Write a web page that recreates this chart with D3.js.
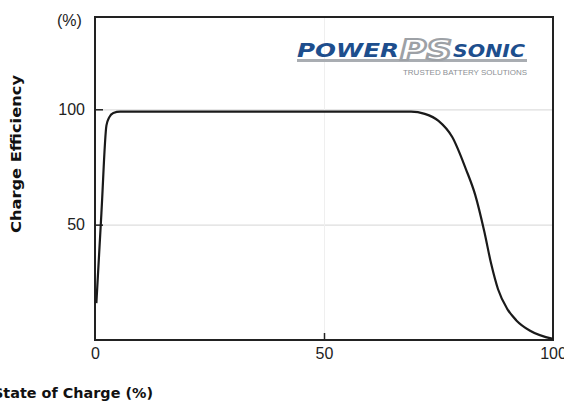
<!DOCTYPE html>
<html>
<head>
<meta charset="utf-8">
<title>Charge Efficiency</title>
<style type="text/css">
  body { margin: 0; background: #fff; }
  svg { display: block; }
</style>
<script src="https://cdn.jsdelivr.net/npm/d3@7/dist/d3.min.js"></script>
</head>
<body>
<div id="chart"></div>
<script type="text/javascript">
// state of charge (%) and charge efficiency (%)
var stateOfCharge = [0.3, 1.4, 2.5, 3.1, 4, 5.5, 20, 40, 60, 69, 72, 75, 78, 81, 83, 85, 86.5, 88, 90, 92, 95, 100];
var efficiency    = [16, 55, 93, 96.5, 98.4, 99, 99, 99, 99, 99, 98, 95, 88, 74, 63, 47, 33, 22, 13.5, 8.5, 4, 0.5];
var xTicks = [0, 50, 100];
var yTicks = [50, 100];

var width = 564, height = 406;
var plotLeft = 95, plotRight = 553, plotTop = 17, plotBottom = 340;

var svg = d3.select("#chart").append("svg")
  .attr("width", width)
  .attr("height", height);

var x = d3.scaleLinear().domain([0, 100]).range([plotLeft, plotRight]);
var y = d3.scaleLinear().domain([0, 140]).range([plotBottom, plotTop]);

// grid lines
svg.append("g")
  .attr("transform", "translate(" + plotLeft + ",0)")
  .call(d3.axisLeft(y).tickValues(yTicks).tickSize(-(plotRight - plotLeft)).tickFormat(""))
  .call(function (g) {
    g.select(".domain").remove();
    g.selectAll("line").attr("stroke", "#dedede").attr("stroke-width", 1.2);
  });
svg.append("g")
  .attr("transform", "translate(0," + plotBottom + ")")
  .call(d3.axisBottom(x).tickValues([50]).tickSize(-(plotBottom - plotTop)).tickFormat(""))
  .call(function (g) {
    g.select(".domain").remove();
    g.selectAll("line").attr("stroke", "#efefef").attr("stroke-width", 1);
  });

// frame
svg.append("rect")
  .attr("x", plotLeft).attr("y", plotTop)
  .attr("width", plotRight - plotLeft).attr("height", plotBottom - plotTop)
  .attr("fill", "none").attr("stroke", "#222").attr("stroke-width", 2);

// axes
svg.append("g")
  .attr("transform", "translate(" + plotLeft + ",0)")
  .call(d3.axisLeft(y).tickValues(yTicks).tickSizeInner(-8).tickSizeOuter(0).tickPadding(10))
  .call(function (g) {
    g.select(".domain").remove();
    g.selectAll("line").attr("stroke", "#222").attr("stroke-width", 1.5);
    g.selectAll("text").attr("fill", "#222")
      .style("font-family", "'Liberation Sans', Arial, sans-serif").style("font-size", "16px");
  });
svg.append("g")
  .attr("transform", "translate(0," + plotBottom + ")")
  .call(d3.axisBottom(x).tickValues(xTicks).tickSizeInner(-7).tickSizeOuter(0).tickPadding(8))
  .call(function (g) {
    g.select(".domain").remove();
    g.selectAll("line").attr("stroke", "#222").attr("stroke-width", 1.5)
      .attr("opacity", function (d) { return d === 50 ? 1 : 0; });
    g.selectAll("text").attr("fill", "#222")
      .style("font-family", "'Liberation Sans', Arial, sans-serif").style("font-size", "16px");
  });

// curve
var line = d3.line()
  .x(function (d, i) { return x(stateOfCharge[i]); })
  .y(function (d) { return y(d); })
  .curve(d3.curveMonotoneX);

svg.append("path")
  .attr("d", line(efficiency))
  .attr("fill", "none")
  .attr("stroke", "#1a1a1a")
  .attr("stroke-width", 2.2)
  .attr("stroke-linejoin", "round");

// axis titles
svg.append("text")
  .attr("x", 57).attr("y", 26)
  .attr("fill", "#222")
  .style("font-family", "'Liberation Sans', Arial, sans-serif").style("font-size", "16px")
  .text("(%)");

svg.append("text")
  .attr("transform", "translate(21,154) rotate(-90)")
  .attr("text-anchor", "middle")
  .attr("textLength", 158).attr("lengthAdjust", "spacingAndGlyphs")
  .attr("fill", "#111")
  .style("font-family", "'DejaVu Sans', sans-serif").style("font-weight", "bold").style("font-size", "14px")
  .text("Charge Efficiency");

svg.append("text")
  .attr("x", -7).attr("y", 398)
  .attr("textLength", 160).attr("lengthAdjust", "spacingAndGlyphs")
  .attr("fill", "#111")
  .style("font-family", "'DejaVu Sans', sans-serif").style("font-weight", "bold").style("font-size", "14px")
  .text("State of Charge (%)");

// logo
var logo = svg.append("g");
logo.append("rect")
  .attr("x", 297).attr("y", 59).attr("width", 230).attr("height", 3)
  .attr("fill", "#a9adb2");
logo.append("text")
  .attr("x", 297).attr("y", 57)
  .attr("textLength", 102).attr("lengthAdjust", "spacingAndGlyphs")
  .attr("fill", "#1d4e8d")
  .style("font-family", "'DejaVu Sans', sans-serif").style("font-weight", "bold")
  .style("font-style", "italic").style("font-size", "20px")
  .text("POWER");
logo.append("text")
  .attr("x", 400).attr("y", 60)
  .attr("textLength", 52).attr("lengthAdjust", "spacingAndGlyphs")
  .attr("fill", "#fff").attr("stroke", "#9da1a6").attr("stroke-width", 2.2)
  .style("font-family", "'DejaVu Sans', sans-serif").style("font-weight", "bold")
  .style("font-style", "italic").style("font-size", "28px")
  .text("PS");
logo.append("text")
  .attr("x", 453).attr("y", 57)
  .attr("textLength", 72).attr("lengthAdjust", "spacingAndGlyphs")
  .attr("fill", "#1d4e8d")
  .style("font-family", "'DejaVu Sans', sans-serif").style("font-weight", "bold")
  .style("font-style", "italic").style("font-size", "17px")
  .text("SONIC");
logo.append("text")
  .attr("x", 403).attr("y", 75)
  .attr("textLength", 124).attr("lengthAdjust", "spacingAndGlyphs")
  .attr("fill", "#8c9095")
  .style("font-family", "'Liberation Sans', Arial, sans-serif").style("font-size", "7.5px")
  .text("TRUSTED BATTERY SOLUTIONS");
</script>
</body>
</html>
